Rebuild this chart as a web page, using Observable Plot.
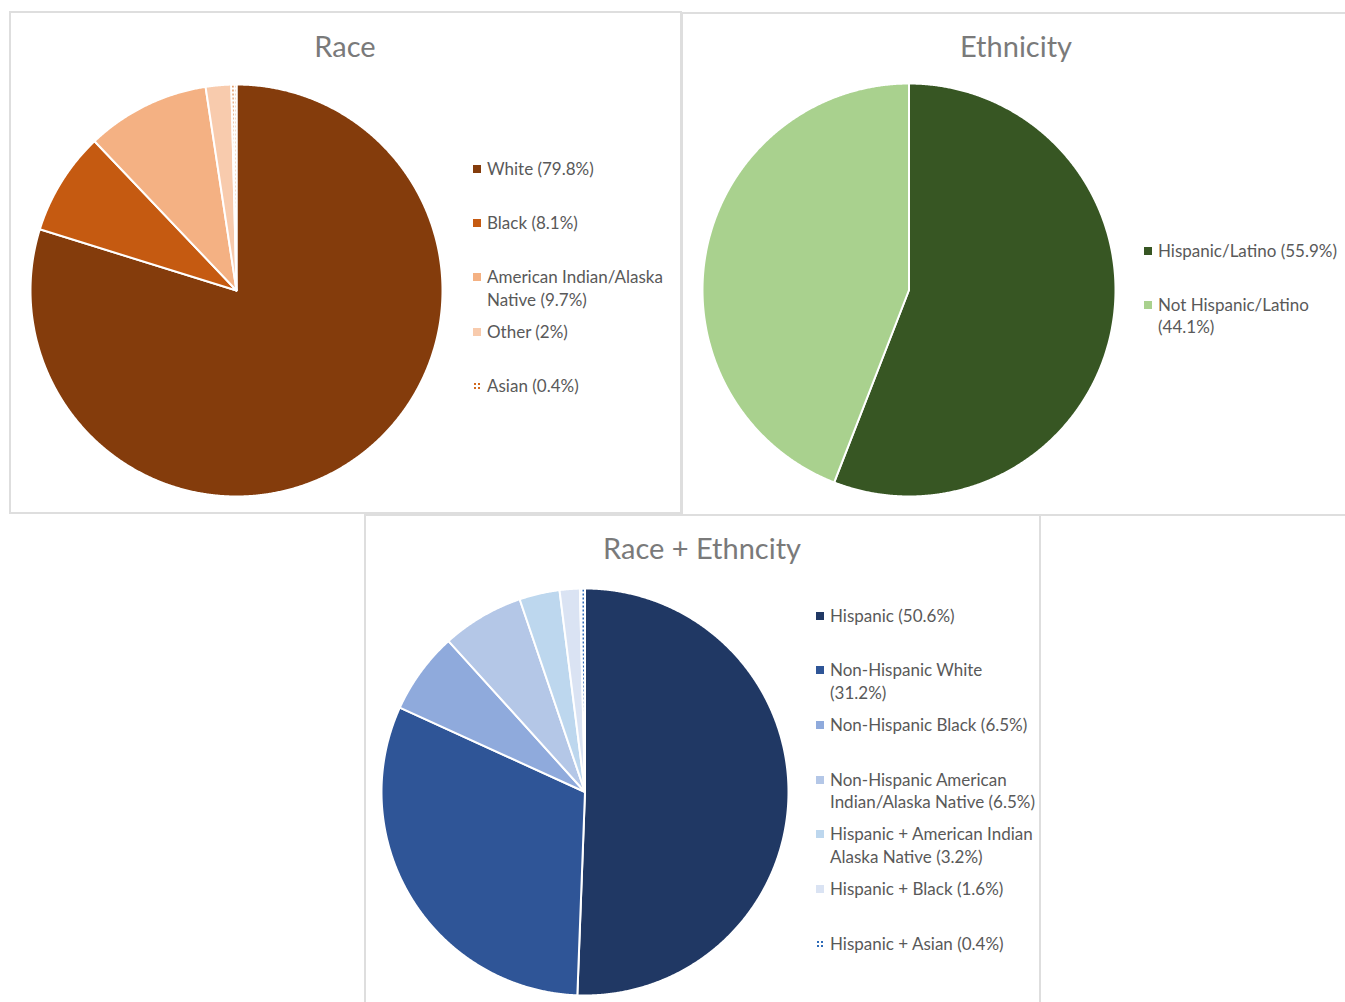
<!DOCTYPE html>
<html>
<head>
<meta charset="utf-8">
<script src="https://cdn.jsdelivr.net/npm/d3@7"></script>
<script src="https://cdn.jsdelivr.net/npm/@observablehq/plot@0.6"></script>
<style>
  html, body { margin: 0; padding: 0; background: #fff; }
  #root { position: relative; width: 1345px; height: 1002px; overflow: hidden; font-family: Lato, "Open Sans", sans-serif; }
  .panel { position: absolute; border: 2px solid #dedede; box-sizing: border-box; }
  .title { position: absolute; transform: translate(-50%, -50%); color: #7a7a7a; font-size: 29px; white-space: nowrap; line-height: 1; }
  .pie { position: absolute; }
  .leg { position: absolute; color: #595959; font-size: 17px; line-height: 22.5px; padding-left: 14px; box-sizing: border-box; }
  .leg .sw { position: absolute; left: 0; top: 7px; width: 8px; height: 8px; }
</style>
</head>
<body>
<svg width="0" height="0" style="position:absolute">
  <defs>
    <pattern id="dotsBrown" width="4" height="4" patternUnits="userSpaceOnUse">
      <rect width="4" height="4" fill="#fff"/>
      <rect x="1" y="1" width="2" height="2" fill="#D2691E"/>
    </pattern>
    <pattern id="dotsBlue" width="4" height="4" patternUnits="userSpaceOnUse">
      <rect width="4" height="4" fill="#fff"/>
      <rect x="1" y="1" width="2" height="2" fill="#2E6BB8"/>
    </pattern>
  </defs>
</svg>
<div id="root"></div>
<script>
// ---------------- DATA ----------------
const raceCategories = ["White", "Black", "American Indian/Alaska Native", "Other", "Asian"];
const raceValues = [79.8, 8.1, 9.7, 2, 0.4];
const raceColors = ["#843C0C", "#C55A11", "#F4B183", "#F8CBAD", "url(#dotsBrown)"];

const ethCategories = ["Hispanic/Latino", "Not Hispanic/Latino"];
const ethValues = [55.9, 44.1];
const ethColors = ["#375623", "#A9D18E"];

const reCategories = ["Hispanic", "Non-Hispanic White", "Non-Hispanic Black",
  "Non-Hispanic American Indian/Alaska Native", "Hispanic + American Indian Alaska Native",
  "Hispanic + Black", "Hispanic + Asian"];
const reValues = [50.6, 31.2, 6.5, 6.5, 3.2, 1.6, 0.4];
const reColors = ["#203864", "#2F5597", "#8FAADC", "#B4C7E7", "#BDD7EE", "#DAE3F3", "url(#dotsBlue)"];

const titles = ["Race", "Ethnicity", "Race + Ethncity"];

// ---------------- LAYOUT ----------------
const root = document.getElementById("root");

function addPanel(left, top, width, height) {
  const d = document.createElement("div");
  d.className = "panel";
  Object.assign(d.style, {left: left + "px", top: top + "px", width: width + "px", height: height + "px"});
  root.appendChild(d);
}
function addTitle(text, cx, cy) {
  const d = document.createElement("div");
  d.className = "title";
  d.textContent = text;
  Object.assign(d.style, {left: cx + "px", top: cy + "px"});
  root.appendChild(d);
}

function sliceFeatures(names, values) {
  const arcs = d3.pie().sort(null).value(d => d)(values);
  return arcs.map((a, i) => {
    const pts = [[0, 0]];
    const n = Math.max(2, Math.ceil((a.endAngle - a.startAngle) / 0.005));
    for (let k = 0; k <= n; k++) {
      const t = a.startAngle + (a.endAngle - a.startAngle) * k / n;
      pts.push([Math.sin(t), -Math.cos(t)]);
    }
    pts.push([0, 0]);
    return {type: "Feature", properties: {name: names[i], value: values[i]},
            geometry: {type: "Polygon", coordinates: [pts]}};
  });
}

function addPie(names, values, colors, cx, cy, r) {
  const m = 4;
  const size = 2 * r + 2 * m;
  const circle = {type: "Polygon", coordinates: [d3.range(0, 361, 2).map(a => [Math.sin(a * Math.PI / 180), -Math.cos(a * Math.PI / 180)])]};
  const chart = Plot.plot({
    width: size, height: size, margin: 0,
    projection: ({width, height}) => d3.geoIdentity().fitExtent([[m, m], [width - m, height - m]], circle),
    color: {domain: names, range: colors},
    marks: [
      Plot.geo(sliceFeatures(names, values), {
        fill: d => d.properties.name,
        stroke: "white", strokeWidth: 2, strokeLinejoin: "round"
      })
    ]
  });
  const wrap = document.createElement("div");
  wrap.className = "pie";
  Object.assign(wrap.style, {left: (cx - r - m) + "px", top: (cy - r - m) + "px"});
  wrap.appendChild(chart);
  root.appendChild(wrap);
}

function addLegend(names, values, colors, x, y0, step, width) {
  names.forEach((nm, i) => {
    const d = document.createElement("div");
    d.className = "leg";
    Object.assign(d.style, {left: x + "px", top: (y0 + i * step - 11.25) + "px", width: width + "px"});
    const sw = document.createElementNS("http://www.w3.org/2000/svg", "svg");
    sw.setAttribute("class", "sw");
    sw.setAttribute("width", 8); sw.setAttribute("height", 8);
    const rect = document.createElementNS("http://www.w3.org/2000/svg", "rect");
    rect.setAttribute("width", 8); rect.setAttribute("height", 8);
    rect.setAttribute("fill", colors[i]);
    sw.appendChild(rect);
    d.appendChild(sw);
    d.appendChild(document.createTextNode(`${nm} (${values[i]}%)`));
    root.appendChild(d);
  });
}

// Panels
addPanel(9, 11, 673, 503);
addPanel(681, 12, 672, 504);
addPanel(364, 514, 677, 500);

// Titles
addTitle(titles[0], 345, 45);
addTitle(titles[1], 1016, 45);
addTitle(titles[2], 702, 547);

// Pies
addPie(raceCategories, raceValues, raceColors, 236, 289.5, 206);
addPie(ethCategories, ethValues, ethColors, 908, 289.5, 206.5);
addPie(reCategories, reValues, reColors, 584.5, 791.5, 203.5);

// Legends
addLegend(raceCategories, raceValues, raceColors, 473, 169, 54.25, 200);
addLegend(ethCategories, ethValues, ethColors, 1144, 251, 54, 200);
addLegend(reCategories, reValues, reColors, 816, 616, 54.67, 224);
</script>
</body>
</html>
